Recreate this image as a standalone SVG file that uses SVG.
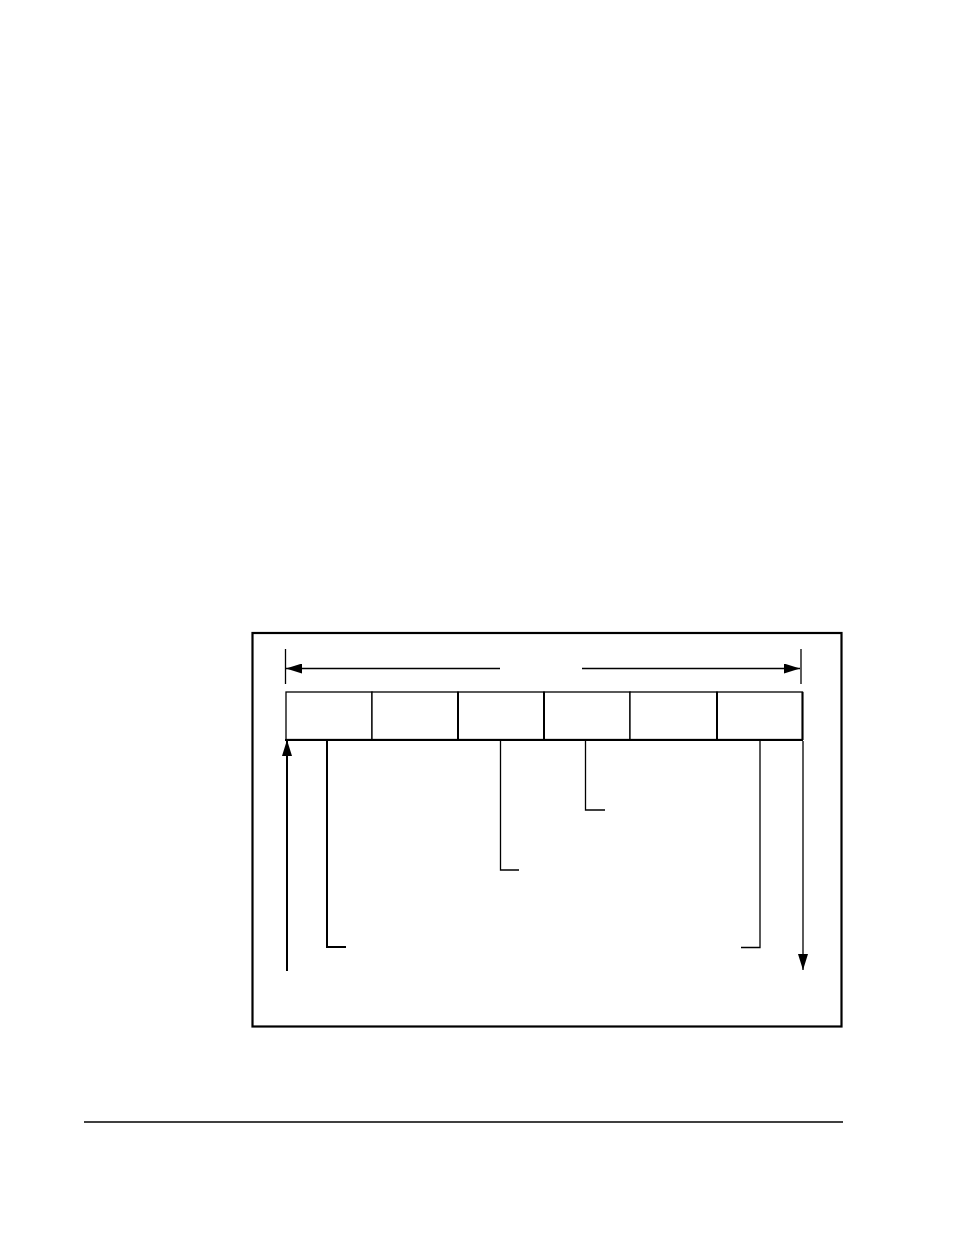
<svg xmlns="http://www.w3.org/2000/svg" width="954" height="1235" viewBox="0 0 954 1235">
<style>
.ln{stroke:#000;fill:none;stroke-width:1.3}
.thk{stroke:#000;fill:none;stroke-width:2}
.cell{fill:#fff;stroke:#000;stroke-width:1.3}
</style>
<defs>
<marker id="ah" viewBox="0 0 16 10" refX="16" refY="5" markerWidth="16" markerHeight="10" markerUnits="userSpaceOnUse" orient="auto">
<path d="M0,0 L16,5 L0,10 Z" fill="#000"/>
</marker>
</defs>
<rect width="954" height="1235" fill="#fff"/>
<rect id="frame" x="252.5" y="633" width="589" height="393.5" fill="none" stroke="#000" stroke-width="2.2"/>
<g id="cells">
<rect id="c1" class="cell" x="286" y="692" width="86" height="47.5"/>
<rect id="c2" class="cell" x="372" y="692" width="86" height="47.5"/>
<rect id="c3" class="cell" x="458" y="692" width="86" height="47.5"/>
<rect id="c4" class="cell" x="544" y="692" width="86" height="47.5"/>
<rect id="c5" class="cell" x="630" y="692" width="87" height="47.5"/>
<rect id="c6" class="cell" x="717" y="692" width="85.5" height="47.5"/>
<line class="thk" x1="458" y1="692" x2="458" y2="740"/>
<line class="thk" x1="544" y1="692" x2="544" y2="740"/>
<line class="thk" x1="717" y1="692" x2="717" y2="740"/>
<line class="thk" x1="802.5" y1="692" x2="802.5" y2="740"/>
<line class="thk" x1="285" y1="740" x2="803" y2="740"/>
</g>
<g id="connectors">
<line class="ln" x1="285.5" y1="649" x2="285.5" y2="684"/>
<line class="ln" x1="801" y1="649" x2="801" y2="684"/>
<line class="ln" x1="500" y1="668.5" x2="286" y2="668.5" marker-end="url(#ah)"/>
<line class="ln" x1="582" y1="668.5" x2="800" y2="668.5" marker-end="url(#ah)"/>
<line class="thk" x1="287" y1="971" x2="287" y2="740" marker-end="url(#ah)"/>
<line class="ln" x1="803" y1="741" x2="803" y2="970" marker-end="url(#ah)"/>
<polyline class="thk" points="327,741 327,947 346,947"/>
<polyline class="ln" points="500.5,741 500.5,870 519,870"/>
<polyline class="ln" points="585.5,741 585.5,810 605,810"/>
<polyline class="ln" points="760,741 760,947.5 741,947.5"/>
</g>
<line id="footer" x1="84" y1="1122" x2="843" y2="1122" stroke="#000" stroke-width="1.3"/>
</svg>
